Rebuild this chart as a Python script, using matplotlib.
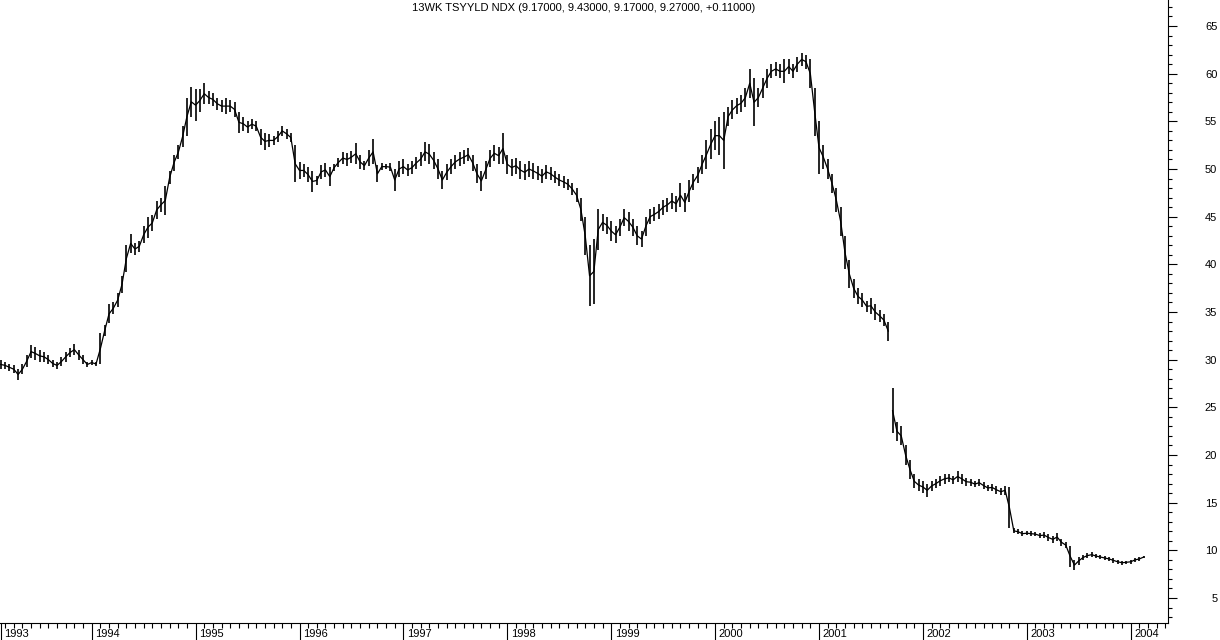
import matplotlib
matplotlib.use('Agg')
import numpy as np
import matplotlib.pyplot as plt
from matplotlib.ticker import MultipleLocator, FixedLocator, NullFormatter

plt.rcParams['font.family'] = ['Liberation Sans', 'DejaVu Sans']

# half-month high/low bars (yield x10)
bars_1993 = [(30.0, 29.0), (29.8, 29.0), (29.6, 28.8), (29.4, 28.6), (29.0, 27.9),
             (29.5, 28.5), (30.5, 29.2), (31.5, 30.2), (31.3, 30.0), (31.0, 29.8),
             (30.8, 29.8), (30.5, 29.5), (30.0, 29.2), (29.8, 29.0), (30.3, 29.3),
             (30.8, 29.8), (31.2, 30.3), (31.6, 30.5), (31.0, 30.0), (30.5, 29.5),
             (29.8, 29.2)]
bars_1994 = [(30.0, 29.4), (29.8, 29.3), (32.8, 29.5), (33.6, 32.5), (35.8, 33.8),
             (36.0, 34.8), (37.0, 35.5), (38.8, 37.0), (42.0, 39.2), (43.2, 41.2),
             (42.2, 41.0), (42.5, 41.3), (44.0, 42.2), (45.0, 42.8), (45.2, 43.5),
             (46.6, 44.8), (47.0, 45.5), (48.2, 45.2), (49.8, 48.4), (51.5, 49.8),
             (52.5, 51.0), (54.5, 52.3), (57.5, 53.5), (58.6, 55.5)]
bars_1995 = [(58.4, 55.0), (58.4, 56.0), (59.0, 56.8), (58.2, 56.8), (58.0, 56.6),
             (57.5, 56.2), (57.2, 56.0), (57.4, 55.8), (57.2, 56.0), (57.0, 55.5),
             (56.0, 53.8), (55.5, 54.0), (55.0, 53.8), (55.2, 54.2), (55.0, 54.0),
             (54.2, 52.5), (53.8, 52.0), (53.7, 52.3), (53.5, 52.5), (54.0, 52.8),
             (54.5, 53.5), (54.2, 53.2), (53.8, 52.8), (52.5, 48.6)]
bars_1996 = [(50.7, 49.0), (50.5, 49.2), (50.2, 48.6), (49.8, 47.6), (49.3, 48.3),
             (50.4, 49.0), (50.6, 49.2), (50.2, 48.2), (50.5, 49.8), (51.2, 50.2),
             (51.8, 50.5), (51.7, 50.3), (51.9, 50.6), (52.7, 50.5), (51.5, 50.0),
             (50.8, 49.9), (52.0, 50.3), (53.1, 50.5), (50.4, 48.6), (50.6, 49.9),
             (50.5, 50.0), (50.6, 49.8), (50.0, 47.7), (50.8, 49.2)]
bars_1997 = [(51.0, 49.5), (50.5, 49.3), (50.8, 49.5), (51.3, 50.0), (51.8, 50.3),
             (52.8, 50.8), (52.6, 50.5), (51.8, 50.0), (51.0, 49.0), (49.8, 47.9),
             (50.5, 48.8), (51.0, 49.5), (51.5, 50.0), (51.8, 50.3), (52.0, 50.5),
             (52.2, 50.8), (51.5, 49.8), (50.5, 48.5), (49.8, 47.7), (50.8, 49.0),
             (52.0, 50.2), (52.5, 50.8), (52.3, 50.5), (53.8, 50.5)]
bars_1998 = [(51.5, 49.5), (51.0, 49.3), (51.2, 49.5), (50.8, 49.0), (50.5, 48.8),
             (50.8, 49.2), (50.6, 49.0), (50.3, 48.8), (50.0, 48.5), (50.4, 49.0),
             (50.2, 48.8), (49.8, 48.5), (49.5, 48.2), (49.3, 48.0), (49.0, 47.8),
             (48.5, 47.3), (48.0, 46.5), (47.0, 44.5), (45.0, 41.0), (42.0, 35.6),
             (42.7, 35.8), (45.8, 41.5), (45.3, 43.5), (45.0, 43.2)]
bars_1999 = [(44.5, 42.5), (44.0, 42.2), (44.8, 43.0), (45.8, 44.0), (45.5, 43.5),
             (44.8, 43.0), (44.0, 42.0), (43.5, 41.8), (45.0, 43.0), (45.8, 44.2),
             (46.0, 44.5), (46.3, 44.8), (46.8, 45.2), (47.0, 45.5), (47.5, 45.8),
             (47.2, 45.5), (48.5, 46.0), (47.5, 45.5), (48.8, 46.5), (49.5, 47.8),
             (50.2, 48.5), (51.5, 49.5), (53.0, 50.0), (54.2, 51.0)]
bars_2000 = [(55.0, 52.0), (55.5, 51.5), (56.0, 50.0), (56.5, 54.5), (57.2, 55.2),
             (57.5, 55.8), (57.8, 56.0), (58.5, 56.5), (60.5, 57.5), (59.5, 54.5),
             (58.5, 56.5), (59.5, 57.5), (60.5, 58.5), (61.0, 59.5), (61.2, 59.8),
             (61.0, 59.5), (61.5, 59.0), (61.5, 60.0), (61.0, 59.5), (61.8, 60.2),
             (62.2, 60.8), (62.0, 60.5), (61.5, 58.5), (58.5, 53.5)]
bars_2001 = [(55.0, 49.5), (52.5, 50.0), (51.0, 49.0), (49.5, 47.5), (48.0, 45.5),
             (46.0, 43.0), (43.0, 39.5), (40.5, 37.5), (38.5, 36.5), (37.5, 35.8),
             (37.0, 35.5), (36.2, 35.0), (36.5, 34.8), (35.8, 34.2), (35.2, 34.0),
             (34.8, 33.5), (34.0, 32.0), (27.0, 22.3), (23.5, 21.5), (23.0, 21.0),
             (21.0, 19.0), (19.5, 17.5), (18.0, 16.5), (17.5, 16.2)]
bars_2002 = [(17.3, 16.0), (17.0, 15.6), (17.3, 16.2), (17.5, 16.5), (17.8, 16.8),
             (18.0, 17.0), (18.0, 17.2), (17.8, 17.0), (18.3, 17.2), (18.0, 17.0),
             (17.6, 16.8), (17.5, 16.8), (17.3, 16.6), (17.5, 16.7), (17.2, 16.4),
             (16.9, 16.2), (17.0, 16.2), (16.8, 15.9), (16.5, 15.8), (16.8, 15.8),
             (16.6, 12.3), (12.3, 11.8), (12.2, 11.7), (12.0, 11.5)]
bars_2003 = [(12.0, 11.6), (12.0, 11.5), (11.9, 11.5), (11.8, 11.3), (11.9, 11.3),
             (11.7, 11.0), (11.5, 10.8), (11.8, 11.0), (11.2, 10.5), (10.9, 10.2),
             (10.5, 8.3), (9.0, 7.9), (9.3, 8.5), (9.5, 9.0), (9.7, 9.2),
             (9.8, 9.3), (9.6, 9.2), (9.5, 9.1), (9.4, 9.0), (9.3, 8.9),
             (9.2, 8.7), (9.0, 8.6), (8.9, 8.5), (8.9, 8.6)]
bars_2004 = [(9.0, 8.6), (9.2, 8.8), (9.3, 8.9), (9.43, 9.17)]

all_years = [(1993, bars_1993, 3), (1994, bars_1994, 0), (1995, bars_1995, 0),
             (1996, bars_1996, 0), (1997, bars_1997, 0), (1998, bars_1998, 0),
             (1999, bars_1999, 0), (2000, bars_2000, 0), (2001, bars_2001, 0),
             (2002, bars_2002, 0), (2003, bars_2003, 0), (2004, bars_2004, 0)]

t = []
hi = []
lo = []
for yr, bars, k0 in all_years:
    for k, (h, l) in enumerate(bars):
        t.append(yr + (k0 + k) / 24.0)
        hi.append(h)
        lo.append(l)
t = np.array(t)
hi = np.array(hi)
lo = np.array(lo)
mid = (hi + lo) / 2

title = '13WK TSYYLD NDX (9.17000, 9.43000, 9.17000, 9.27000, +0.11000)'
x0, x1 = 1993.1174, 2004.359

fig = plt.figure(figsize=(12.2, 6.4), dpi=100)
ax = fig.add_axes([0, 17 / 640, 1168 / 1220, 623 / 640])

ax.vlines(t, lo, hi, color='black', lw=1.2)
# thin connecting trace so the bars read as one series (broken at the 2001 gap)
gap = np.argmax(np.diff(mid) < -5) + 1
ax.plot(t[:gap], mid[:gap], color='black', lw=0.9)
ax.plot(t[gap:], mid[gap:], color='black', lw=0.9)

ax.set_xlim(x0, x1)
ax.set_ylim(2.38, 67.73)

ax.spines['top'].set_visible(False)
ax.spines['left'].set_visible(False)
ax.spines['right'].set_linewidth(0.8)
ax.spines['bottom'].set_linewidth(0.8)

# right value axis
ax.yaxis.tick_right()
ax.yaxis.set_major_locator(FixedLocator(list(range(5, 70, 5))))
ax.yaxis.set_minor_locator(MultipleLocator(1))
ax.tick_params(axis='y', which='major', direction='out', length=6.5, width=0.8,
               labelsize=8, pad=29)
ax.tick_params(axis='y', which='minor', direction='out', length=3, width=0.8)
for lab in ax.get_yticklabels():
    lab.set_horizontalalignment('right')

# time axis: years long ticks, months short ticks
year_ticks = [x0 + 0.01] + list(range(1994, 2005))
month_ticks = [y + m / 12 for y in range(1993, 2005) for m in range(1, 12)
               if x0 < y + m / 12 < x1]
ax.xaxis.set_major_locator(FixedLocator(year_ticks))
ax.xaxis.set_minor_locator(FixedLocator(month_ticks))
ax.xaxis.set_major_formatter(NullFormatter())
ax.tick_params(axis='x', which='major', direction='out', length=12.5, width=0.8)
ax.tick_params(axis='x', which='minor', direction='out', length=3.5, width=0.8)

year_labels = [str(y) for y in range(1993, 2005)]
for pos, lab in zip(year_ticks, year_labels):
    ax.annotate(lab, xy=(pos, 0), xycoords=('data', 'axes fraction'),
                xytext=(2.5, -8), textcoords='offset points',
                ha='left', va='center', fontsize=8)

ax.text(0.5, 1 - 8 / 623, title, transform=ax.transAxes, ha='center',
        va='center', fontsize=8)

plt.savefig('out.png', dpi=100)
